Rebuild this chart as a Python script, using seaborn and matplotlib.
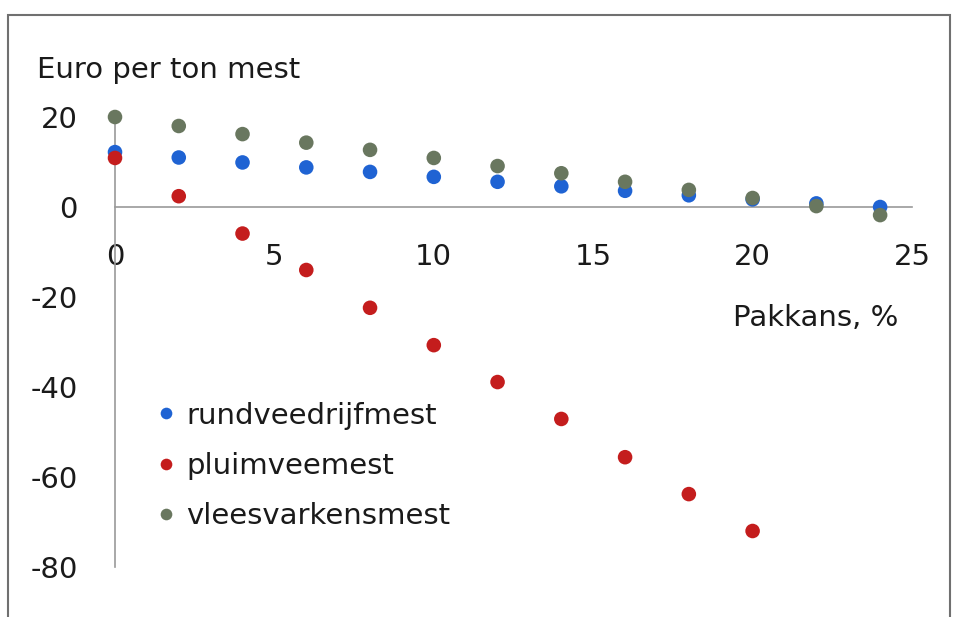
import matplotlib
matplotlib.use("Agg")
import matplotlib.pyplot as plt
import seaborn as sns
import pandas as pd
from matplotlib.patches import Rectangle

pakkans = [0, 2, 4, 6, 8, 10, 12, 14, 16, 18, 20, 22, 24]
rundveedrijfmest = [12.2, 11.0, 9.9, 8.8, 7.8, 6.7, 5.6, 4.6, 3.6, 2.6, 1.7, 0.8, 0.0]
pluimveemest = [10.9, 2.4, -5.9, -14.0, -22.4, -30.7, -38.9, -47.1, -55.6, -63.8, -72.0]
vleesvarkensmest = [20.0, 18.0, 16.2, 14.3, 12.7, 10.9, 9.1, 7.5, 5.6, 3.8, 2.0, 0.2, -1.8]
series_names = ["rundveedrijfmest", "pluimveemest", "vleesvarkensmest"]
x_ticks = [0, 5, 10, 15, 20, 25]
y_ticks = [20, 0, -20, -40, -60, -80]

rows = []
for name, vals in zip(series_names, [rundveedrijfmest, pluimveemest, vleesvarkensmest]):
    for x, v in zip(pakkans, vals):
        rows.append({"Pakkans": x, "Euro": v, "Mest": name})
df = pd.DataFrame(rows)

sns.set_style("white")
plt.rcParams["font.family"] = ["DejaVu Sans"]
FS = 21

fig = plt.figure(figsize=(9.55, 6.17), dpi=100)
ax = fig.add_axes([115/955, 1 - 567/617, (912 - 115)/955, (567 - 117)/617])

palette = {"rundveedrijfmest": "#1f63d3", "pluimveemest": "#c41d1d", "vleesvarkensmest": "#69775f"}
sns.scatterplot(data=df, x="Pakkans", y="Euro", hue="Mest", hue_order=series_names,
                palette=palette, s=110, edgecolor="none", ax=ax, clip_on=False, zorder=3)

ax.set_xlim(0, 25)
ax.set_ylim(-80, 20)
ax.set_xticks(x_ticks)
ax.set_yticks(y_ticks)
ax.set_xticklabels([str(t) for t in x_ticks])
ax.set_yticklabels([str(t) for t in y_ticks])
ax.tick_params(axis="x", length=0, pad=26, labelsize=FS, colors="#1a1a1a")
ax.tick_params(axis="y", length=0, pad=27, labelsize=FS, colors="#1a1a1a")
ax.set_xlabel("")
ax.set_ylabel("")

for s in ["top", "right"]:
    ax.spines[s].set_visible(False)
ax.spines["bottom"].set_position(("data", 0))
ax.spines["bottom"].set_color("#9a9a9a")
ax.spines["bottom"].set_linewidth(1.2)
ax.spines["left"].set_color("#9a9a9a")
ax.spines["left"].set_linewidth(1.2)
ax.set_facecolor("none")

fig.text(37/955, 1 - 70/617, "Euro per ton mest", fontsize=FS, va="center", ha="left", color="#1a1a1a")
fig.text(898/955, 1 - 318/617, "Pakkans, %", fontsize=FS, va="center", ha="right", color="#1a1a1a")

leg = ax.legend(loc="upper left", bbox_to_anchor=(125/955, 1 - 390/617), bbox_transform=fig.transFigure,
                frameon=False, fontsize=FS, handletextpad=-0.3, labelspacing=0.76, markerscale=0.8,
                borderaxespad=0)
for t in leg.get_texts():
    t.set_color("#1a1a1a")

fig.patches.append(Rectangle((8/955, -0.02), (950 - 8)/955, 1.02 - 15/617,
                             transform=fig.transFigure, fill=False, edgecolor="#707070", linewidth=1.5))

fig.savefig("out.png", dpi=100)
